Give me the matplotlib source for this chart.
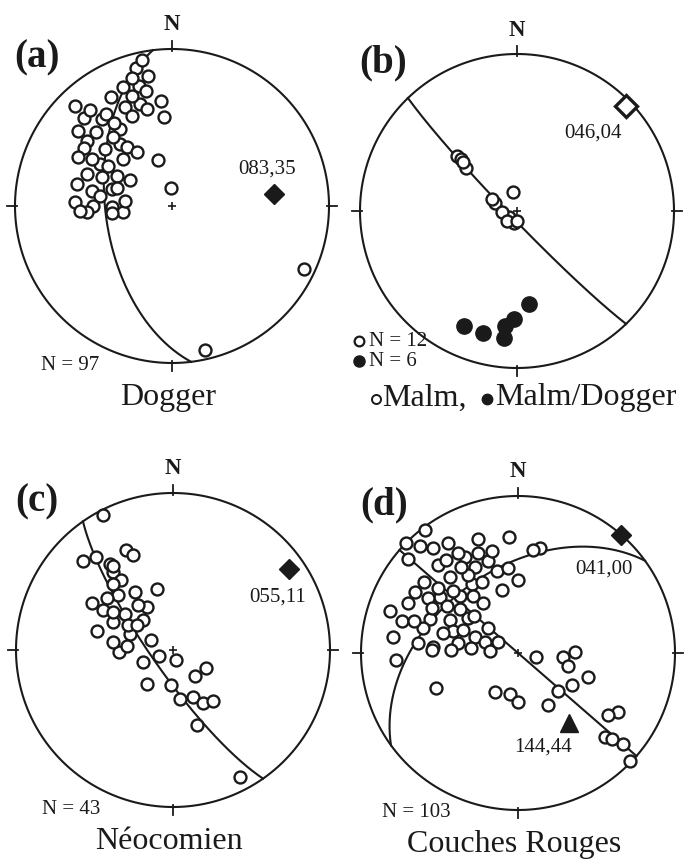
import numpy as np
import matplotlib.pyplot as plt

plt.rcParams['font.family'] = ['Liberation Serif', 'DejaVu Serif']

NET_R = 157  # radius of the primitive circle, in net units

# poles / axes labelled on the nets (trend, plunge)
a_pole = (83, 35)
b_pole = (46, 4)
c_pole = (55, 11)
d_pole = (41, 0)
d_axis = (144, 44)

# plotted data, net coordinates (east, north), drawn back to front
a_back = [(-49, 119), (-32, 102), (-47, 99), (-25, 97), (-70, 87), (-85, 65), (-67, 57),
          (-49, 47), (-85, 32), (-70, 29), (-55, 30), (-79, 0), (-60, -1), (-49, -6),
          (-80, 15), (-97, 4), (-60, 17), (-60, -7), (-88, 58), (-66, 92), (-52, 77),
          (-40, 90), (-33, 120), (-55, 18), (-85, -6), (-36, 138), (-72, 42), (-88, 88),
          (-52, 62), (-59, 69), (-26, 115)]
a_front = [(-30, 146), (-40, 128), (-24, 130), (-40, 110), (-61, 109), (-11, 105), (-8, 89),
           (-97, 100), (-82, 96), (-58, 83), (-76, 74), (-94, 75), (-45, 59), (-35, 54),
           (-94, 49), (-80, 47), (-64, 40), (-14, 46), (-95, 22), (-42, 26), (-72, 10),
           (-47, 5), (-92, -5), (-1, 18), (132, -63), (33, -144)]

b_malm = [(-60, 55), (-51, 43), (-56, 52), (-54, 49), (-22, 8), (-8, -6), (-3, -12),
          (-15, -1), (-10, -10), (-25, 12), (-4, 19), (0, -10)]
b_dogger = [(-12, -115), (-53, -115), (-34, -122), (-13, -127), (-3, -108), (12, -93)]

c_back = [(-90, 89), (-47, 100), (-63, 86), (-60, 78), (-26, 43), (-48, 36), (-60, 28),
          (-43, 16), (-54, -2), (20, -47), (30, -53), (33, -18), (-55, 55), (-45, 25),
          (-70, 40), (-30, 30), (-52, 70)]
c_front = [(-70, 135), (-77, 93), (-40, 95), (-60, 84), (-60, 66), (-81, 47), (-66, 52),
           (-38, 58), (-16, 61), (-35, 45), (-60, 38), (-36, 25), (-76, 19), (-60, 8),
           (-46, 4), (-22, 10), (-14, -6), (3, -10), (-30, -12), (22, -26), (-26, -34),
           (-2, -35), (7, -49), (40, -51), (24, -75), (67, -127)]

d_back = [(-98, 107), (-53, 96), (-43, 86), (-21, 82), (-103, 61), (-78, 56), (-46, 69),
          (-58, 57), (-36, 71), (-116, 32), (-88, 34), (-68, 33), (-71, 47), (-43, 16),
          (-65, 22), (-85, 6), (-33, 11), (22, 105), (-28, 2), (45, -4), (-8, -41),
          (100, -59), (87, -84), (105, -91), (-80, 88), (-60, 100), (-50, 78), (-30, 92),
          (-90, 55), (-65, 62), (-35, 50), (-75, 20), (-95, 25), (-110, 50), (-50, 35),
          (-30, 25), (-60, 10), (-80, 65), (-40, 100)]
d_front = [(-93, 123), (-112, 110), (-85, 105), (-70, 110), (-40, 114), (-9, 116), (-26, 102),
           (15, 103), (-110, 94), (-72, 93), (-57, 86), (-10, 85), (0, 73), (-16, 63),
           (-68, 76), (-94, 71), (-45, 57), (-128, 42), (-104, 32), (-86, 45), (-58, 44),
           (-44, 37), (-125, 16), (-100, 10), (-55, 23), (-20, 11), (-86, 3), (-67, 3),
           (-122, -7), (-47, 5), (18, -4), (57, 1), (50, -13), (70, -24), (54, -32),
           (40, -38), (-82, -35), (-23, -39), (0, -49), (30, -52), (90, -62), (94, -86),
           (112, -108)]

INK = '#1a1a1a'


def project(trend, plunge):
    # Schmidt net, lower hemisphere
    r = NET_R * np.sqrt(2) * np.sin(np.radians(90 - np.asarray(plunge)) / 2)
    t = np.radians(trend)
    return r * np.sin(t), r * np.cos(t)


def great_circle(pole):
    dd = np.radians(pole[0] + 180)
    dip = np.radians(90 - pole[1])
    s = dd - np.pi / 2
    t = np.linspace(0, np.pi, 361)
    e = np.cos(t) * np.sin(s) + np.sin(t) * np.cos(dip) * np.sin(dd)
    n = np.cos(t) * np.cos(s) + np.sin(t) * np.cos(dip) * np.cos(dd)
    d = np.sin(t) * np.sin(dip)
    plunge = np.degrees(np.arcsin(np.clip(d, -1, 1)))
    trend = np.degrees(np.arctan2(e, n))
    return project(trend, plunge)


def open_pts(ax, pts, ms=8.6):
    p = np.array(pts)
    ax.plot(p[:, 0], p[:, 1], 'o', ms=ms, mfc='white', mec=INK, mew=1.7, ls='none', zorder=3)


def net(rect, xlim, ylim, letter, title, count):
    ax = fig.add_axes(rect)
    ax.set_xlim(*xlim)
    ax.set_ylim(*ylim)
    ax.axis('off')
    th = np.linspace(0, 2 * np.pi, 400)
    ax.plot(NET_R * np.cos(th), NET_R * np.sin(th), color=INK, lw=1.5, zorder=2)
    for ang in (0, 90, 180, 270):
        c, s = np.sin(np.radians(ang)), np.cos(np.radians(ang))
        ax.plot([c * (NET_R - 2), c * (NET_R + 8)], [s * (NET_R - 2), s * (NET_R + 8)],
                color=INK, lw=1.3)
    ax.plot(0, 0, '+', ms=6, mew=1.2, color=INK, zorder=2)
    ax.text(0, NET_R + 25, 'N', ha='center', va='center', fontsize=16.5,
            fontweight='bold', color=INK)
    ax.text(-NET_R - 1, NET_R - 8, letter, ha='left', va='center', fontsize=28,
            fontweight='bold', color=INK)
    if title:
        ax.text(-4, -NET_R - 34, title, ha='center', va='center', fontsize=23, color=INK)
    if count:
        ax.text(-102, -NET_R - 2, count, ha='center', va='center', fontsize=15, color=INK)
    return ax


fig = plt.figure(figsize=(6.88, 8.62), dpi=100)

# (a) Dogger
ax = net([0, 0.5, 0.5, 0.5], (-172, 172), (-224, 207), '(a)', 'Dogger', 'N = 97')
gx, gy = great_circle(a_pole)
ax.plot(gx, gy, color=INK, lw=1.5, zorder=2)
open_pts(ax, a_back)
open_pts(ax, a_front)
px, py = project(*a_pole)
ax.plot(px, py, 'D', ms=10.5, color=INK, zorder=4)
ax.text(px - 7, py + 25, '083,35', ha='center', va='center', fontsize=15, color=INK)

# (b) Malm
ax = net([0.5, 0.5, 0.5, 0.5], (-173, 171), (-219, 212), '(b)', None, None)
gx, gy = great_circle(b_pole)
ax.plot(gx, gy, color=INK, lw=1.5, zorder=2)
open_pts(ax, b_malm)
p = np.array(b_dogger)
ax.plot(p[:, 0], p[:, 1], 'o', ms=11, color=INK, ls='none', zorder=3)
px, py = project(*b_pole)
ax.plot(px, py, 'D', ms=11, mfc='white', mec=INK, mew=2.4, zorder=4)
ax.text(px - 33, py - 26, '046,04', ha='center', va='center', fontsize=15, color=INK)
ax.plot(-158, -130, 'o', ms=7, mfc='white', mec=INK, mew=1.6, clip_on=False)
ax.plot(-158, -150, 'o', ms=8, color=INK, clip_on=False)
ax.text(-148, -130, 'N = 12', ha='left', va='center', fontsize=15, color=INK)
ax.text(-148, -150, 'N = 6', ha='left', va='center', fontsize=15, color=INK)
# title with its two symbol keys
ax.plot(-141, -188, 'o', ms=6.5, mfc='white', mec=INK, mew=1.4, clip_on=False)
ax.text(-135, -186, 'Malm,', ha='left', va='center', fontsize=23, color=INK)
ax.plot(-30, -188, 'o', ms=7.5, color=INK, clip_on=False)
ax.text(-22, -186, 'Malm/Dogger', ha='left', va='center', fontsize=23, color=INK)

# (c) Neocomien
ax = net([0, 0, 0.5, 0.5], (-173, 171), (-211, 220), '(c)', 'Néocomien', 'N = 43')
gx, gy = great_circle(c_pole)
ax.plot(gx, gy, color=INK, lw=1.5, zorder=2)
open_pts(ax, c_back)
open_pts(ax, c_front)
px, py = project(*c_pole)
ax.plot(px, py, 'D', ms=10.5, color=INK, zorder=4)
ax.text(px - 11, py - 27, '055,11', ha='center', va='center', fontsize=15, color=INK)

# (d) Couches Rouges
ax = net([0.5, 0, 0.5, 0.5], (-174, 170), (-208, 223), '(d)', 'Couches Rouges', 'N = 103')
for pole in (d_pole, d_axis):
    gx, gy = great_circle(pole)
    ax.plot(gx, gy, color=INK, lw=1.5, zorder=2)
open_pts(ax, d_back)
open_pts(ax, d_front)
px, py = project(*d_pole)
ax.plot(px, py, 'D', ms=10.5, color=INK, zorder=4)
ax.text(px - 17, py - 34, '041,00', ha='center', va='center', fontsize=15, color=INK)
px, py = project(*d_axis)
ax.plot(px, py, '^', ms=13, color=INK, zorder=4)
ax.text(px - 26, py - 23, '144,44', ha='center', va='center', fontsize=15, color=INK)

plt.savefig('out.png', dpi=100)
